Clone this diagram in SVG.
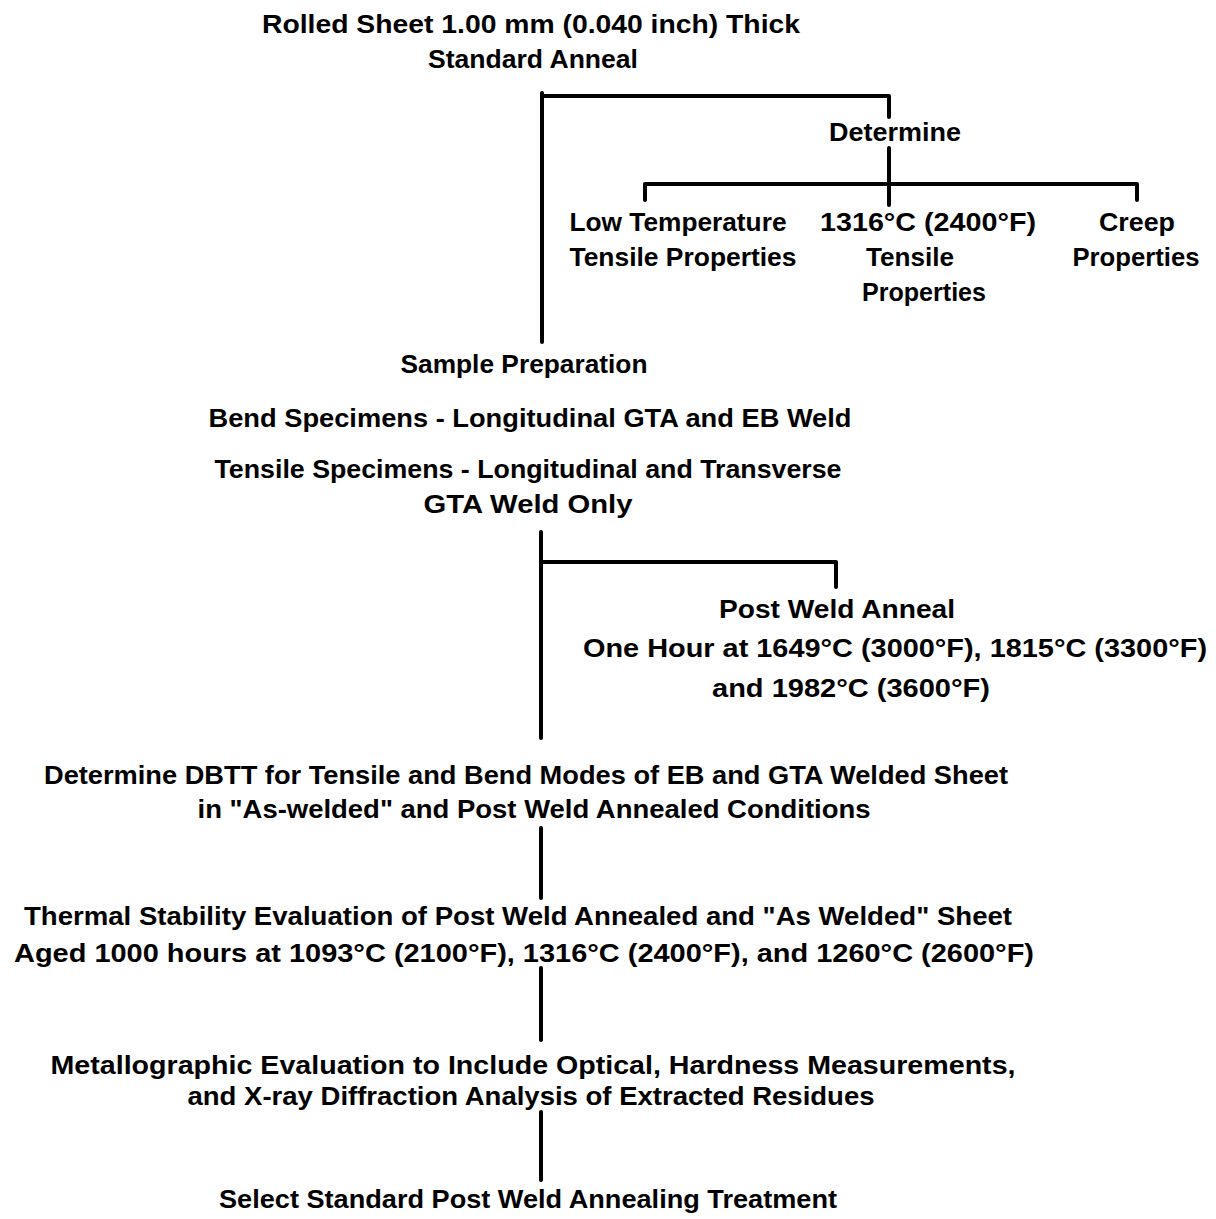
<svg xmlns="http://www.w3.org/2000/svg" width="1216" height="1219" viewBox="0 0 1216 1219">
<style>
text{font-family:"Liberation Sans",Arial,sans-serif;font-size:26px;font-weight:bold;fill:#000;text-anchor:middle}
.c{stroke:#000;stroke-width:4;fill:none;stroke-linejoin:round;stroke-linecap:round}
</style>
<rect width="1216" height="1219" fill="#fff"/>
<g id="connectors">
<path class="c" d="M542,93 V342"/>
<path class="c" d="M542,96 H889 V117"/>
<path class="c" d="M889,148 V205"/>
<path class="c" d="M645,200 V184 H1137 V200"/>
<path class="c" d="M541,532 V738"/>
<path class="c" d="M541,562 H836 V587"/>
<path class="c" d="M541,828 V898"/>
<path class="c" d="M541,968 V1040"/>
<path class="c" d="M541,1112 V1180"/>
</g>
<g id="n-rolled"><text x="531" y="33" textLength="538" lengthAdjust="spacingAndGlyphs">Rolled Sheet 1.00 mm (0.040 inch) Thick</text><text x="533" y="68" textLength="210" lengthAdjust="spacingAndGlyphs">Standard Anneal</text></g>
<g id="n-determine"><text x="895" y="141" textLength="132" lengthAdjust="spacingAndGlyphs">Determine</text></g>
<g id="n-lowtemp"><text x="678" y="231" textLength="217" lengthAdjust="spacingAndGlyphs">Low Temperature</text><text x="683" y="266" textLength="227" lengthAdjust="spacingAndGlyphs">Tensile Properties</text></g>
<g id="n-1316"><text x="928" y="231" textLength="216" lengthAdjust="spacingAndGlyphs">1316°C (2400°F)</text><text x="910" y="266" textLength="88" lengthAdjust="spacingAndGlyphs">Tensile</text><text x="924" y="301" textLength="124" lengthAdjust="spacingAndGlyphs">Properties</text></g>
<g id="n-creep"><text x="1137" y="231" textLength="76" lengthAdjust="spacingAndGlyphs">Creep</text><text x="1136" y="266" textLength="127" lengthAdjust="spacingAndGlyphs">Properties</text></g>
<g id="n-sample"><text x="524" y="373" textLength="247" lengthAdjust="spacingAndGlyphs">Sample Preparation</text><text x="530" y="427" textLength="643" lengthAdjust="spacingAndGlyphs">Bend Specimens - Longitudinal GTA and EB Weld</text><text x="528" y="478" textLength="627" lengthAdjust="spacingAndGlyphs">Tensile Specimens - Longitudinal and Transverse</text><text x="528" y="513" textLength="209" lengthAdjust="spacingAndGlyphs">GTA Weld Only</text></g>
<g id="n-postweld"><text x="837" y="618" textLength="236" lengthAdjust="spacingAndGlyphs">Post Weld Anneal</text><text x="895" y="657" textLength="624" lengthAdjust="spacingAndGlyphs">One Hour at 1649°C (3000°F), 1815°C (3300°F)</text><text x="851" y="697" textLength="278" lengthAdjust="spacingAndGlyphs">and 1982°C (3600°F)</text></g>
<g id="n-dbtt"><text x="526" y="784" textLength="964" lengthAdjust="spacingAndGlyphs">Determine DBTT for Tensile and Bend Modes of EB and GTA Welded Sheet</text><text x="534" y="818" textLength="673" lengthAdjust="spacingAndGlyphs">in "As-welded" and Post Weld Annealed Conditions</text></g>
<g id="n-thermal"><text x="518" y="925" textLength="988" lengthAdjust="spacingAndGlyphs">Thermal Stability Evaluation of Post Weld Annealed and "As Welded" Sheet</text><text x="524" y="962" textLength="1020" lengthAdjust="spacingAndGlyphs">Aged 1000 hours at 1093°C (2100°F), 1316°C (2400°F), and 1260°C (2600°F)</text></g>
<g id="n-metallo"><text x="533" y="1074" textLength="965" lengthAdjust="spacingAndGlyphs">Metallographic Evaluation to Include Optical, Hardness Measurements,</text><text x="531" y="1105" textLength="687" lengthAdjust="spacingAndGlyphs">and X-ray Diffraction Analysis of Extracted Residues</text></g>
<g id="n-select"><text x="528" y="1208" textLength="618" lengthAdjust="spacingAndGlyphs">Select Standard Post Weld Annealing Treatment</text></g>
</svg>
